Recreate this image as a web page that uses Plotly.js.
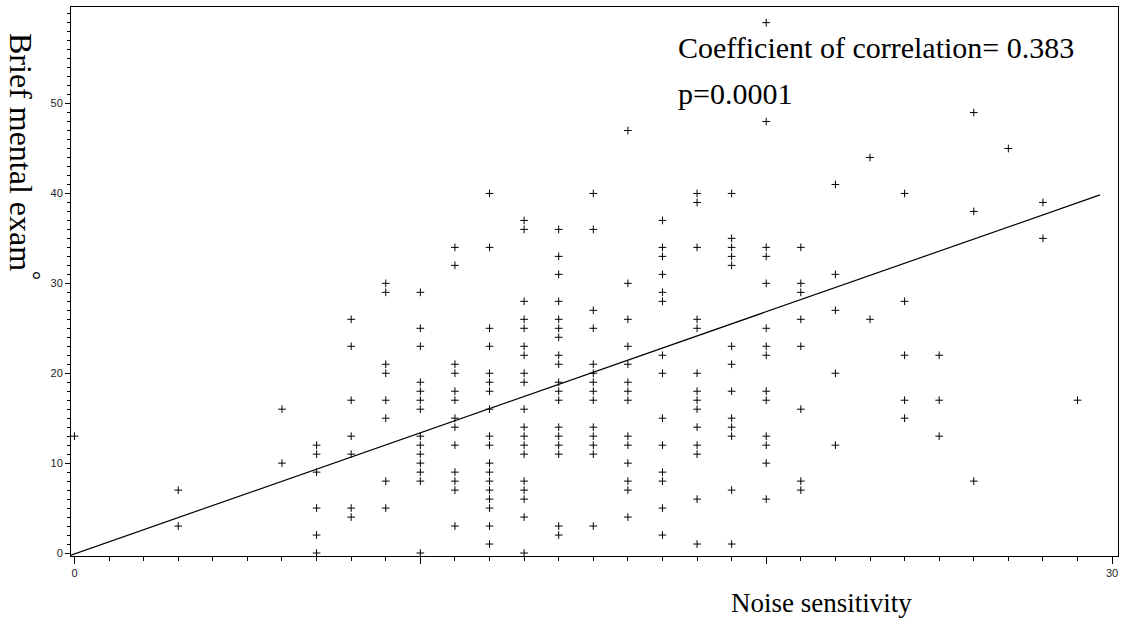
<!DOCTYPE html>
<html>
<head>
<meta charset="utf-8">
<script src="https://cdn.plot.ly/plotly-3.0.1.min.js"></script>
<style>
  html, body { margin: 0; padding: 0; background: #fff; }
  #chart { width: 1121px; height: 620px; }
</style>
</head>
<body>
<div id="chart"></div>
<script>
// Noise sensitivity score (x) for each column of points
const noiseValues = [0, 3, 6, 7, 8, 9, 10, 11, 12, 13, 14, 15, 16, 17, 18, 19, 20, 21, 22, 23, 24, 25, 26, 27, 28, 29];
// Brief mental exam scores observed at each noise sensitivity value
const examValues = [
  [13],
  [7, 3],
  [16, 10],
  [12, 11, 9, 5, 2, 0],
  [26, 23, 17, 13, 11, 5, 4],
  [30, 29, 21, 20, 17, 15, 8, 5],
  [29, 25, 23, 19, 18, 17, 16, 13, 12, 11, 10, 9, 8, 0],
  [34, 32, 21, 20, 18, 17, 15, 14, 12, 9, 8, 7, 3],
  [40, 34, 25, 23, 20, 19, 18, 16, 13, 12, 10, 9, 8, 7, 6, 5, 3, 1],
  [37, 36, 28, 26, 25, 23, 22, 20, 19, 16, 14, 13, 12, 11, 8, 7, 6, 4, 0],
  [36, 33, 31, 28, 26, 25, 24, 22, 21, 19, 18, 17, 14, 13, 12, 11, 3, 2],
  [40, 36, 27, 25, 21, 20, 19, 18, 17, 14, 13, 12, 11, 3],
  [47, 30, 26, 23, 21, 19, 18, 17, 13, 12, 10, 8, 7, 4],
  [37, 34, 33, 31, 29, 28, 22, 20, 15, 12, 9, 8, 5, 2],
  [40, 39, 34, 26, 25, 20, 18, 17, 16, 14, 12, 11, 6, 1],
  [40, 35, 34, 33, 32, 23, 21, 18, 15, 14, 13, 7, 1],
  [59, 48, 34, 33, 30, 25, 23, 22, 18, 17, 13, 12, 10, 6],
  [34, 30, 29, 26, 23, 16, 8, 7],
  [41, 31, 27, 20, 12],
  [44, 26],
  [40, 28, 22, 17, 15],
  [22, 17, 13],
  [49, 38, 8],
  [45],
  [39, 35],
  [17]
];
// Regression line end points
const fitX = [-0.1, 29.65];
const fitY = [-0.23, 39.84];
// Tick labels
const xTickVals = [0, 30];
const xTickText = ['0', '30'];
const xMajorUnlabeled = [10, 20];
const yTickVals = [0, 10, 20, 30, 40, 50];
const yTickText = ['0', '10', '20', '30', '40', '50'];
const statsLines = ['Coefficient of correlation= 0.383', 'p=0.0001'];
const xTitle = 'Noise sensitivity';
const yTitle = 'Brief mental exam<sup>°</sup>';

const px = [], py = [];
noiseValues.forEach((xv, i) => {
  examValues[i].forEach(yv => { px.push(xv); py.push(yv); });
});

const serif = '"Liberation Serif", "DejaVu Serif", serif';
const sans = '"Liberation Sans", Arial, sans-serif';

const traces = [
  {
    x: px, y: py, type: 'scatter', mode: 'markers',
    marker: { symbol: 'cross-thin', size: 5.5, color: '#000', line: { color: '#000', width: 1 } },
    hoverinfo: 'x+y', showlegend: false
  },
  {
    x: fitX, y: fitY, type: 'scatter', mode: 'lines',
    line: { color: '#000', width: 1.2 }, hoverinfo: 'skip', showlegend: false
  },
  {
    // invisible copy used only to carry the unlabeled major x ticks
    x: fitX, y: fitY, xaxis: 'x2', yaxis: 'y', type: 'scatter', mode: 'lines',
    line: { color: 'rgba(0,0,0,0)', width: 0 }, hoverinfo: 'skip', showlegend: false
  }
];

const xRange = [-0.1, 30.17];

const layout = {
  width: 1121, height: 620,
  margin: { l: 71, r: 3, t: 7, b: 64 },
  paper_bgcolor: '#fff', plot_bgcolor: '#fff',
  showlegend: false,
  xaxis: {
    range: xRange, showgrid: false, zeroline: false,
    showline: true, linecolor: '#000', linewidth: 1, mirror: true,
    ticks: 'outside', ticklen: 7, tickwidth: 1, tickcolor: '#000',
    tickmode: 'array', tickvals: xTickVals, ticktext: xTickText,
    tickfont: { family: sans, size: 11, color: '#222' },
    minor: { dtick: 1, tick0: 0, ticks: 'outside', ticklen: 4, tickcolor: '#000', showgrid: false }
  },
  xaxis2: {
    overlaying: 'x', anchor: 'y', side: 'bottom', range: xRange,
    showgrid: false, zeroline: false, showline: false,
    ticks: 'outside', ticklen: 7, tickwidth: 1, tickcolor: '#000',
    tickmode: 'array', tickvals: xMajorUnlabeled, showticklabels: false
  },
  yaxis: {
    range: [-0.33, 60.74], showgrid: false, zeroline: false,
    showline: true, linecolor: '#000', linewidth: 1, mirror: true,
    ticks: 'outside', ticklen: 5, tickwidth: 1, tickcolor: '#000',
    tickmode: 'array', tickvals: yTickVals, ticktext: yTickText,
    tickfont: { family: sans, size: 11, color: '#222' },
    minor: { dtick: 1, tick0: 0, ticks: 'outside', ticklen: 3, tickcolor: '#000', showgrid: false }
  },
  annotations: [
    { text: statsLines[0], xref: 'x', yref: 'y', x: 17.4, y: 56.2, xanchor: 'left', yanchor: 'middle',
      showarrow: false, font: { family: serif, size: 30, color: '#000' } },
    { text: statsLines[1], xref: 'x', yref: 'y', x: 17.4, y: 51.1, xanchor: 'left', yanchor: 'middle',
      showarrow: false, font: { family: serif, size: 30, color: '#000' } },
    { text: xTitle, xref: 'paper', yref: 'paper', x: 0.717, y: -0.086, xanchor: 'center', yanchor: 'middle',
      showarrow: false, font: { family: serif, size: 27, color: '#000' } },
    { text: yTitle, xref: 'paper', yref: 'paper', x: -0.045, y: 0.727, xanchor: 'center', yanchor: 'middle',
      textangle: 90, showarrow: false, font: { family: serif, size: 32, color: '#000' } }
  ]
};

Plotly.newPlot('chart', traces, layout, { displayModeBar: false, staticPlot: true });
</script>
</body>
</html>
